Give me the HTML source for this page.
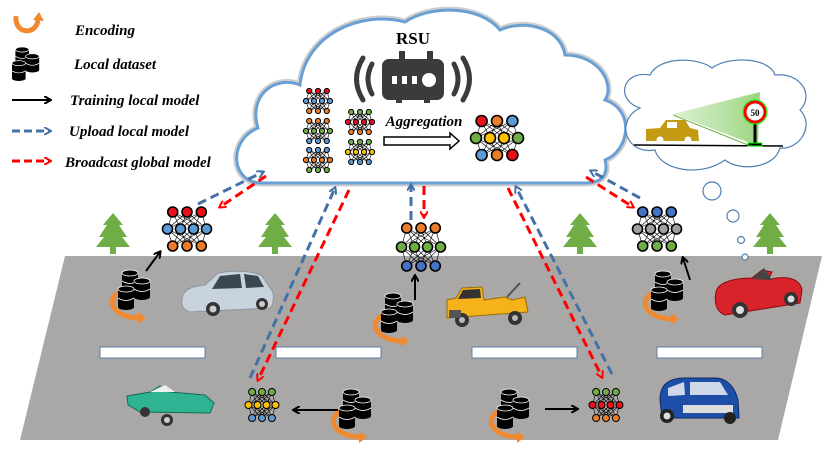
<!DOCTYPE html>
<html><head><meta charset="utf-8"><style>
html,body{margin:0;padding:0;background:#fff;width:830px;height:467px;overflow:hidden}
svg{display:block}
text{font-family:"Liberation Serif",serif;font-weight:bold}
</style></head><body>
<svg id="s" width="830" height="467" viewBox="0 0 830 467" xmlns="http://www.w3.org/2000/svg">
<defs>
<marker id="ab" markerWidth="8" markerHeight="8" refX="6" refY="4" orient="auto" markerUnits="userSpaceOnUse"><path d="M0,0 L7,4 L0,8" fill="none" stroke="#4472a8" stroke-width="2"/></marker>
<marker id="ar" markerWidth="8" markerHeight="8" refX="6" refY="4" orient="auto" markerUnits="userSpaceOnUse"><path d="M0,0 L7,4 L0,8" fill="none" stroke="#f00" stroke-width="2"/></marker>
<marker id="ak" markerWidth="8" markerHeight="8" refX="6" refY="4" orient="auto" markerUnits="userSpaceOnUse"><path d="M0,0 L7,4 L0,8" fill="none" stroke="#000" stroke-width="2"/></marker>
<linearGradient id="beam" x1="0" y1="0" x2="1" y2="0"><stop offset="0" stop-color="#b5e0a0" stop-opacity="0.5"/><stop offset="1" stop-color="#8fd070" stop-opacity="0.9"/></linearGradient>
</defs>
<polygon points="65,256 822,256 778,440 20,440" fill="#aaa7a7"/>
<g fill="#fff" stroke="#5a7fa8" stroke-width="1">
<rect x="100" y="347" width="105" height="11"/><rect x="276" y="347" width="105" height="11"/><rect x="472" y="347" width="105" height="11"/><rect x="657" y="347" width="105" height="11"/>
</g>
<g id="trees"></g>
<path d="M262,183 C230,183 228,140 258,128 C248,95 275,75 300,85 C305,35 360,10 405,22 C430,5 480,5 500,30 C520,20 560,25 565,55 C600,55 615,85 605,100 C635,110 630,150 605,160 C610,180 595,183 585,183 Z" fill="#fff" stroke="#cfcfcf" stroke-width="7"/>
<path d="M262,183 C230,183 228,140 258,128 C248,95 275,75 300,85 C305,35 360,10 405,22 C430,5 480,5 500,30 C520,20 560,25 565,55 C600,55 615,85 605,100 C635,110 630,150 605,160 C610,180 595,183 585,183 Z" fill="#fff" stroke="#6a9fd4" stroke-width="3"/>
<text x="413" y="44" font-size="17" text-anchor="middle">RSU</text>
<g fill="#3b3b3b">
<rect x="399" y="51" width="6" height="12"/><rect x="427" y="51" width="6" height="12"/>
<rect x="382" y="59" width="62" height="41" rx="7"/>
<rect x="396" y="97" width="6" height="6"/><rect x="424" y="97" width="6" height="6"/>
</g>
<g fill="#fff"><rect x="392" y="76" width="5" height="8"/><rect x="402" y="76" width="5" height="8"/><rect x="412" y="76" width="5" height="8"/><circle cx="429" cy="80" r="7"/></g>
<g fill="none" stroke="#3b3b3b" stroke-width="5" stroke-linecap="round">
<path d="M372,64 Q364,79 372,94"/><path d="M363,58 Q350,79 363,100"/>
<path d="M454,64 Q462,79 454,94"/><path d="M463,58 Q476,79 463,100"/>
</g>
<text x="424" y="126" font-size="15" font-style="italic" text-anchor="middle">Aggregation</text>
<path d="M384,137 L450,137 L450,133 L459,141 L450,149 L450,145 L384,145 Z" fill="#fff" stroke="#000" stroke-width="1.5"/>
<g id="nets"></g>
<path d="M640,108 C615,100 622,70 650,75 C660,55 700,58 712,68 C730,55 770,58 775,75 C800,72 815,95 800,110 C815,125 800,150 780,148 C775,168 740,172 725,160 C700,178 660,170 655,150 C625,155 615,120 640,108 Z" fill="#fff" stroke="#4f7fb0" stroke-width="1.2"/>
<g fill="#fff" stroke="#4f7fb0" stroke-width="1.2"><circle cx="712" cy="191" r="9"/><circle cx="733" cy="216" r="6"/><circle cx="741" cy="240" r="3.5"/><circle cx="745" cy="257" r="3"/></g>
<polygon points="673,114 760,92 758,146" fill="url(#beam)"/>
<line x1="673" y1="115" x2="748" y2="145" stroke="#6fb04a" stroke-width="1"/>
<line x1="634" y1="145" x2="783" y2="146" stroke="#000" stroke-width="1.5"/>
<path d="M646,129 L660,128 L666,120 L685,120 L690,128 L698,130 L699,141 L646,141 Z" fill="#c49a12"/>
<rect x="667" y="122" width="10" height="6" fill="#fff"/>
<circle cx="660" cy="140" r="3.5" fill="#fff"/><circle cx="688" cy="140" r="3.5" fill="#fff"/>
<line x1="755" y1="120" x2="755" y2="144" stroke="#000" stroke-width="3"/>
<rect x="748" y="143" width="14" height="3" fill="#000" stroke="#0f0" stroke-width="1"/>
<circle cx="755" cy="112" r="10" fill="#fff" stroke="#f00" stroke-width="3"/>
<circle cx="755" cy="112" r="12" fill="none" stroke="#0f0" stroke-width="1"/>
<text x="755" y="116" font-size="9" text-anchor="middle">50</text>
<g id="cars">
<path d="M182,300 C182,288 195,286 205,285 L218,273 C235,270 255,271 262,276 L270,288 C275,292 274,305 270,308 L190,312 C183,310 181,305 182,300Z" fill="#c9d3dd" stroke="#8a96a3"/>
<path d="M220,276 L240,274 L242,288 L212,289Z M244,274 L258,276 L264,287 L246,288Z" fill="#3a4650"/>
<circle cx="213" cy="309" r="7" fill="#333"/><circle cx="213" cy="309" r="3.5" fill="#ccc"/><circle cx="262" cy="304" r="6" fill="#333"/><circle cx="262" cy="304" r="3" fill="#ccc"/>
<path d="M447,300 L456,298 L462,288 L482,287 L484,300 L505,297 L512,300 L525,297 L528,312 L447,318Z" fill="#f5b21a" stroke="#9a6c00"/>
<path d="M463,290 L480,289 L481,298 L458,299Z" fill="#333"/>
<line x1="507" y1="297" x2="520" y2="283" stroke="#555" stroke-width="2"/>
<circle cx="462" cy="320" r="7" fill="#333"/><circle cx="462" cy="320" r="3" fill="#bbb"/><circle cx="515" cy="318" r="7" fill="#333"/><circle cx="515" cy="318" r="3" fill="#bbb"/>
<rect x="449" y="310" width="12" height="8" fill="#555"/>
<path d="M716,292 C718,282 735,278 752,278 L762,270 L772,272 L768,280 C785,275 800,278 802,290 L800,303 L725,315 C716,312 714,302 716,292Z" fill="#d8232a" stroke="#8a0a10"/>
<path d="M752,279 L764,268 L772,280Z" fill="#444"/>
<circle cx="740" cy="310" r="8" fill="#333"/><circle cx="740" cy="310" r="4" fill="#ddd"/><circle cx="791" cy="299" r="7" fill="#333"/><circle cx="791" cy="299" r="3.5" fill="#ddd"/>
<path d="M127,396 L150,392 L160,386 L170,392 L205,395 L214,403 L210,413 L140,412 L128,405Z" fill="#2fb392" stroke="#136b54"/>
<path d="M150,392 L165,385 L175,392Z" fill="#eee"/>
<circle cx="145" cy="412" r="5" fill="#333"/><circle cx="167" cy="420" r="6" fill="#333"/><circle cx="167" cy="420" r="3" fill="#ccc"/>
<path d="M660,400 C660,385 668,378 685,378 L715,378 C730,378 736,392 738,400 L739,418 L662,418Z" fill="#1e4fa8" stroke="#0b2a66"/>
<path d="M668,388 L684,382 L685,395 L668,396Z M690,382 L720,382 L728,395 L690,395Z" fill="#cfd8e8"/>
<rect x="683" y="405" width="50" height="8" fill="#ddd"/>
<circle cx="667" cy="416" r="7" fill="#222"/><circle cx="667" cy="416" r="3.5" fill="#ddd"/><circle cx="730" cy="418" r="6" fill="#222"/>
</g>
<g id="dbs"></g>
<g stroke="#000" stroke-width="2" fill="none" marker-end="url(#ak)">
<line x1="146" y1="271" x2="160" y2="252"/>
<line x1="415" y1="300" x2="415" y2="276"/>
<line x1="690" y1="280" x2="683" y2="258"/>
<line x1="338" y1="410" x2="294" y2="410"/>
<line x1="545" y1="409" x2="577" y2="409"/>
</g>
<g stroke-width="3" fill="none" stroke-dasharray="9,5">
<line x1="198" y1="204" x2="263" y2="172" stroke="#4472a8" marker-end="url(#ab)"/>
<line x1="266" y1="176" x2="220" y2="207" stroke="#f00" marker-end="url(#ar)"/>
<line x1="250" y1="378" x2="335" y2="188" stroke="#4472a8" marker-end="url(#ab)"/>
<line x1="349" y1="190" x2="258" y2="380" stroke="#f00" marker-end="url(#ar)"/>
<line x1="411" y1="220" x2="411" y2="185" stroke="#4472a8" marker-end="url(#ab)"/>
<line x1="424" y1="186" x2="424" y2="217" stroke="#f00" marker-end="url(#ar)"/>
<line x1="508" y1="188" x2="602" y2="377" stroke="#f00" marker-end="url(#ar)"/>
<line x1="612" y1="374" x2="516" y2="187" stroke="#4472a8" marker-end="url(#ab)"/>
<line x1="586" y1="177" x2="633" y2="207" stroke="#f00" marker-end="url(#ar)"/>
<line x1="640" y1="198" x2="591" y2="171" stroke="#4472a8" marker-end="url(#ab)"/>
</g>
<g stroke-width="3" fill="none">
<line x1="12" y1="100" x2="50" y2="100" stroke="#000" stroke-width="2" marker-end="url(#ak)"/>
<line x1="12" y1="131" x2="50" y2="131" stroke="#4472a8" stroke-dasharray="8,4" marker-end="url(#ab)"/>
<line x1="12" y1="161" x2="50" y2="161" stroke="#f00" stroke-dasharray="8,4" marker-end="url(#ar)"/>
</g>
<g font-size="15" font-style="italic">
<text x="75" y="35">Encoding</text>
<text x="74" y="69">Local dataset</text>
<text x="70" y="105">Training local model</text>
<text x="69" y="136">Upload local model</text>
<text x="65" y="167">Broadcast global model</text>
</g>
</svg>
<script>
var NS="http://www.w3.org/2000/svg";
function el(p,t,a){var e=document.createElementNS(NS,t);for(var k in a)e.setAttribute(k,a[k]);p.appendChild(e);return e;}
var C={r:"#e8101a",o:"#ea7d2c",b:"#5b9bd5",g:"#70ad47",y:"#ffc000",k:"#a0a0a0",B:"#4472c4"};
var nets=document.getElementById("nets");
function net(cx,cy,dx,dy,r,rows){
 var pos=rows.map(function(row,i){var n=row.length;var d=(n==3?dx*1.1:dx);return row.split("").map(function(c,j){return [cx+(j-(n-1)/2)*d, cy+(i-1)*dy, c];});});
 for(var i=0;i<2;i++)pos[i].forEach(function(a){pos[i+1].forEach(function(b){el(nets,"line",{x1:a[0],y1:a[1],x2:b[0],y2:b[1],stroke:"#000","stroke-width":0.6});});});
 pos.forEach(function(row){row.forEach(function(p){el(nets,"circle",{cx:p[0],cy:p[1],r:r,fill:C[p[2]],stroke:"#000","stroke-width":r>4?1.6:1});});});
}
net(187,229,13,17,5,["rrr","bbbb","ooo"]);
net(421,247,13,19,5,["ooo","gggg","BBB"]);
net(657,229,13,17,5,["BBB","kkkk","ggg"]);
net(262,405,9,13,3.5,["ggg","yyyy","bbb"]);
net(606,405,9,13,3.5,["ggg","rrrr","ooo"]);
net(318,101,8,10,2.6,["rrr","bbbb","ooo"]);
net(318,131,8,10,2.6,["ooo","gggg","bbb"]);
net(318,160,8,10,2.6,["bbb","oooo","ggg"]);
net(360,122,8,10,2.6,["ggg","rrrr","ooo"]);
net(360,152,8,10,2.6,["ggg","yyyy","bbb"]);
net(497,138,14,17,5.5,["rob","gyyg","bor"]);
var trees=document.getElementById("trees");
[[113,213],[275,213],[580,213],[770,213]].forEach(function(t){var x=t[0],y=t[1];
 el(trees,"polygon",{points:[x,y,x-10,y+12,x-6,y+12,x-14,y+24,x-9,y+24,x-17,y+34,x+17,y+34,x+9,y+24,x+14,y+24,x+6,y+12,x+10,y+12].join(","),fill:"#70ad47"});
 el(trees,"rect",{x:x-3,y:y+34,width:6,height:7,fill:"#70ad47"});});
var dbs=document.getElementById("dbs");
function cyl(g,x,y,w,h){el(g,"rect",{x:x,y:y+3,width:w,height:h-6,fill:"#000"});el(g,"ellipse",{cx:x+w/2,cy:y+h-3,rx:w/2,ry:3,fill:"#000"});el(g,"ellipse",{cx:x+w/2,cy:y+3,rx:w/2,ry:3,fill:"#000",stroke:"#fff","stroke-width":0.8});
 el(g,"path",{d:"M"+x+","+(y+h/2)+" Q"+(x+w/2)+","+(y+h/2+5)+" "+(x+w)+","+(y+h/2),stroke:"#fff",fill:"none","stroke-width":0.8});}
function db(x,y,s,enc){var g=el(dbs,"g",{transform:"translate("+x+","+y+") scale("+s+")"});
 if(enc){el(g,"path",{d:"M2,22 C-14,30 -4,48 22,48",stroke:"#f08a30","stroke-width":5,fill:"none"});el(g,"polygon",{points:"20,42 28,48 20,54",fill:"#f08a30"});}
 cyl(g,4,0,16,22);cyl(g,16,8,16,22);cyl(g,0,16,16,24);}
db(118,270,1,true);db(381,293,1,true);db(651,271,1,true);db(339,389,1,true);db(497,389,1,true);
db(12,47,0.85,false);
var lg=el(dbs,"g",{});
el(lg,"path",{d:"M16,16 C14,34 36,36 38,20",stroke:"#f08a30","stroke-width":5,fill:"none"});
el(lg,"polygon",{points:"33,20 39,12 44,21",fill:"#f08a30"});
</script>
</body></html>
